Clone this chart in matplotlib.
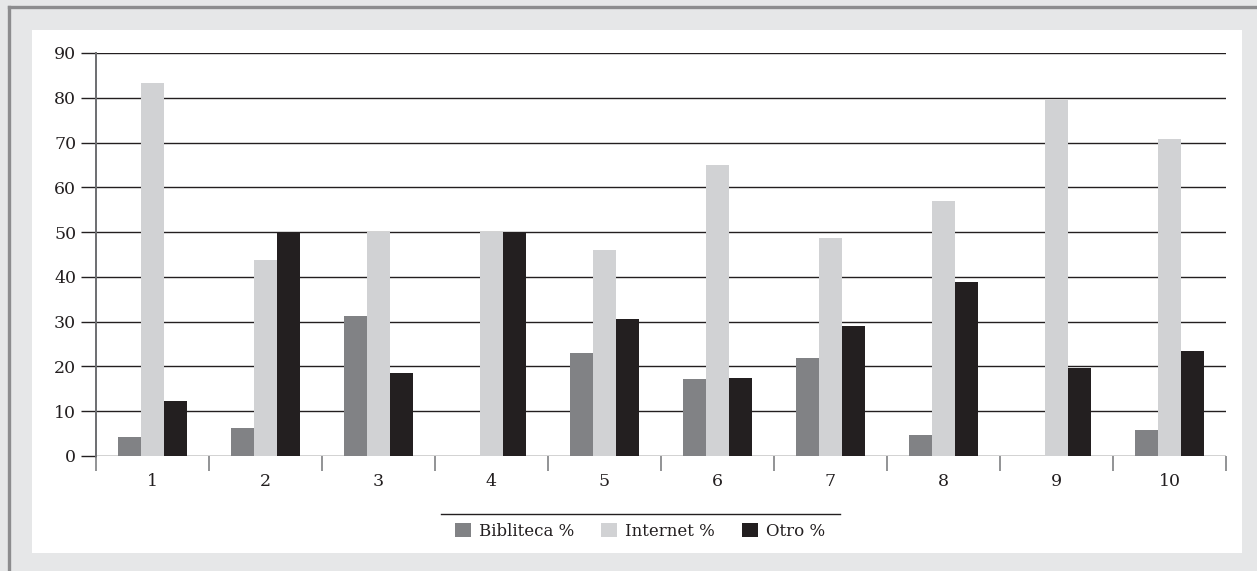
import matplotlib
matplotlib.use("Agg")
import matplotlib.pyplot as plt
import numpy as np
from matplotlib.lines import Line2D
from matplotlib.patches import Rectangle, Patch

plt.rcParams['font.family'] = ['DejaVu Serif']

categories = ['1', '2', '3', '4', '5', '6', '7', '8', '9', '10']
biblioteca = [4.3, 6.3, 31.3, 0, 23.0, 17.2, 21.9, 4.7, 0, 5.8]
internet = [83.2, 43.8, 50.0, 50.0, 45.9, 64.9, 48.7, 57.0, 79.6, 70.7]
otro = [12.3, 50.0, 18.6, 50.0, 30.6, 17.4, 29.1, 38.9, 19.7, 23.5]
series_names = ['Bibliteca %', 'Internet %', 'Otro %']
y_ticks = [0, 10, 20, 30, 40, 50, 60, 70, 80, 90]

colors = ['#818285', '#d1d2d4', '#231f20']
grid_dark = '#231f20'
spine_gray = '#6d6e71'
fs = 12.5
tick_len = 10.8  # points, about 15 px at 100 dpi

W, H = 1257, 571
fig = plt.figure(figsize=(W / 100, H / 100), dpi=100, facecolor='#e6e7e8')

# white inner panel, kept behind the axes
fig.patches.append(Rectangle((32 / W, 1 - 553 / H), 1210 / W, 523 / H,
                             transform=fig.transFigure, facecolor='white',
                             edgecolor='none', zorder=-5))
# outer frame edges
fig.lines.append(Line2D([9 / W, 9 / W], [0, 1 - 7 / H], transform=fig.transFigure,
                        color='#8c8c8e', lw=2.4, zorder=-4))
fig.lines.append(Line2D([9 / W, 1], [1 - 7 / H, 1 - 7 / H], transform=fig.transFigure,
                        color='#8c8c8e', lw=2.4, zorder=-4))

ax = fig.add_axes([96 / W, 1 - 456 / H, 1130 / W, 403 / H], zorder=1)
ax.set_facecolor('none')

x = np.arange(1, len(categories) + 1)
w = 0.2035
for i, (vals, c, name) in enumerate(zip([biblioteca, internet, otro], colors, series_names)):
    ax.bar(x + (i - 1) * w, vals, width=w, color=c, label=name, zorder=3, linewidth=0)

ax.set_xlim(0.5, len(categories) + 0.5)
ax.set_ylim(0, 90)
ax.set_yticks(y_ticks)
ax.set_yticklabels([str(t) for t in y_ticks])
ax.yaxis.grid(True, color=grid_dark, lw=1.0)
ax.set_axisbelow(True)

ax.set_xticks(x)
ax.set_xticklabels(categories)
ax.set_xticks(np.arange(0.5, len(categories) + 1), minor=True)

ax.tick_params(axis='y', length=tick_len, width=1.0, color=grid_dark, direction='out',
               pad=3.5, labelsize=fs, labelcolor='#231f20')
ax.tick_params(axis='x', which='major', length=0, pad=12, labelsize=fs, labelcolor='#231f20')
ax.tick_params(axis='x', which='minor', length=tick_len, width=1.2, color='#7f8083',
               direction='out')

for s in ['top', 'right', 'bottom']:
    ax.spines[s].set_visible(False)
ax.spines['left'].set_color(spine_gray)
ax.spines['left'].set_linewidth(1.4)

# legend with rule above it
fig.lines.append(Line2D([441 / W, 840 / W], [1 - 514 / H, 1 - 514 / H],
                        transform=fig.transFigure, color=grid_dark, lw=1.0))
handles = [Patch(facecolor=c, edgecolor='none') for c in colors]
fig.legend(handles, series_names, loc='center', bbox_to_anchor=(640 / W, 1 - 531 / H),
           ncol=3, frameon=False, fontsize=12, handlelength=0.95, handleheight=0.95,
           handletextpad=0.5, columnspacing=1.6, labelcolor='#231f20')

fig.savefig('out.png', dpi=100, facecolor=fig.get_facecolor())
